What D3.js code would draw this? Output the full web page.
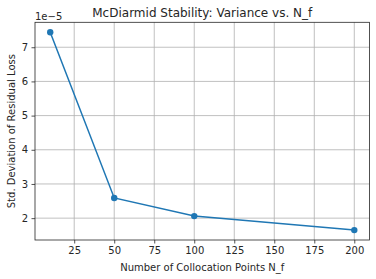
<!DOCTYPE html>
<html lang="en">
<head>
<meta charset="UTF-8">
<title>McDiarmid Stability</title>
<script src="https://cdn.jsdelivr.net/npm/d3@7"></script>
<style>
    body { margin: 0; background: #fff; }
    svg text { font-family: "DejaVu Sans", sans-serif; fill: #262626; }
</style>
</head>
<body>
<div id="chart"></div>
<script>
    // data (y in units of 1e-5)
    var nf = [10, 50, 100, 200];
    var stdDev = [7.44, 2.59, 2.06, 1.65];
    var xTicks = [25, 50, 75, 100, 125, 150, 175, 200];
    var yTicks = [2, 3, 4, 5, 6, 7];

    var W = 376, H = 279;
    var margin = {top: 22.3, right: 6.5, bottom: 39, left: 35};
    var width = W - margin.left - margin.right,
        height = H - margin.top - margin.bottom;

    var svg = d3.select("#chart").append("svg")
        .attr("width", W).attr("height", H);

    var g = svg.append("g")
        .attr("transform", `translate(${margin.left},${margin.top})`);

    // matplotlib style 5% padding
    var xr = d3.extent(nf), yr = d3.extent(stdDev);
    var xPad = (xr[1] - xr[0]) * 0.05, yPad = (yr[1] - yr[0]) * 0.05;

    var x = d3.scaleLinear().domain([xr[0] - xPad, xr[1] + xPad]).range([0, width]);
    var y = d3.scaleLinear().domain([yr[0] - yPad, yr[1] + yPad]).range([height, 0]);

    // grid
    g.append("g").selectAll("line").data(xTicks).enter().append("line")
        .attr("x1", d => x(d)).attr("x2", d => x(d))
        .attr("y1", 0).attr("y2", height)
        .attr("stroke", "#b0b0b0").attr("stroke-width", 0.8);
    g.append("g").selectAll("line").data(yTicks).enter().append("line")
        .attr("y1", d => y(d)).attr("y2", d => y(d))
        .attr("x1", 0).attr("x2", width)
        .attr("stroke", "#b0b0b0").attr("stroke-width", 0.8);

    // axes
    var xAxis = g.append("g")
        .attr("transform", `translate(0,${height})`)
        .call(d3.axisBottom(x).tickValues(xTicks).tickSize(3.5).tickPadding(3.5));
    var yAxis = g.append("g")
        .call(d3.axisLeft(y).tickValues(yTicks).tickSize(3.5).tickPadding(3.5).tickFormat(d3.format("d")));
    [xAxis, yAxis].forEach(function (a) {
        a.select(".domain").remove();
        a.selectAll("line").attr("stroke", "#262626").attr("stroke-width", 0.8);
        a.selectAll("text").style("font-size", "10px").attr("fill", "#262626");
    });

    // frame
    g.append("rect")
        .attr("width", width).attr("height", height)
        .attr("fill", "none").attr("stroke", "#262626").attr("stroke-width", 0.8);

    // line + markers
    var pts = nf.map((d, i) => [d, stdDev[i]]);
    g.append("path")
        .datum(pts)
        .attr("fill", "none")
        .attr("stroke", "#1f77b4")
        .attr("stroke-width", 1.5)
        .attr("d", d3.line().x(d => x(d[0])).y(d => y(d[1])));
    g.selectAll(".dot").data(pts).enter().append("circle")
        .attr("class", "dot")
        .attr("cx", d => x(d[0])).attr("cy", d => y(d[1]))
        .attr("r", 3.2).attr("fill", "#1f77b4");

    // labels
    svg.append("text")
        .attr("x", margin.left + width / 2).attr("y", 17)
        .attr("text-anchor", "middle").style("font-size", "12px")
        .text("McDiarmid Stability: Variance vs. N_f");
    svg.append("text")
        .attr("x", margin.left).attr("y", 19.5)
        .style("font-size", "10px")
        .text("1e\u22125");
    svg.append("text")
        .attr("x", margin.left + width / 2).attr("y", 271)
        .attr("text-anchor", "middle").style("font-size", "10px")
        .text("Number of Collocation Points N_f");
    svg.append("text")
        .attr("transform", `translate(14.5,${margin.top + height / 2}) rotate(-90)`)
        .attr("text-anchor", "middle").style("font-size", "10px")
        .text("Std. Deviation of Residual Loss");
</script>
</body>
</html>
